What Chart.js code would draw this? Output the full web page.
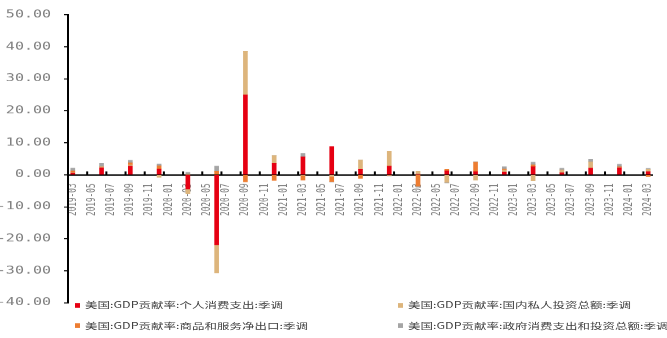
<!DOCTYPE html>
<html>
<head>
<meta charset="utf-8">
<script src="https://cdn.jsdelivr.net/npm/chart.js@4.4.1/dist/chart.umd.min.js"></script>
<style>
  html, body { margin: 0; padding: 0; background: #fff; overflow: hidden; }
  /* chart is laid out taller and squeezed vertically */
  #wrap { position: relative; width: 667px; height: 504px; transform: scaleY(0.6706); transform-origin: 0 0; }
  #legend { position: absolute; left: 0; top: 0; width: 667px; font: 12.5px "Noto Sans CJK SC"; color: #404040; }
  .item { position: absolute; white-space: nowrap; line-height: 16px; }
  .item i { display: inline-block; width: 5px; height: 7px; margin-right: 5px; vertical-align: 1px; }
</style>
</head>
<body>
<div id="wrap">
  <canvas id="gdp-chart" width="667" height="504"></canvas>
  <div id="legend"></div>
</div>
<script>
// quarterly data, placed on a monthly axis
const quarters = ["2019-03", "2019-06", "2019-09", "2019-12", "2020-03", "2020-06", "2020-09",
  "2020-12", "2021-03", "2021-06", "2021-09", "2021-12", "2022-03", "2022-06", "2022-09",
  "2022-12", "2023-03", "2023-06", "2023-09", "2023-12", "2024-03"];

const consumption = [0.5, 2.2, 2.7, 1.8, -4.5, -21.9, 25.0, 3.6, 5.6, 8.8, 1.7, 2.7, 0.1, 1.2, 1.0, 0.9, 2.5, 0.6, 2.1, 2.2, 1.0];
const investment = [0.2, 0.3, 0.4, -0.8, -1.4, -8.8, 13.6, 2.4, -0.2, -0.6, 2.9, 4.7, 1.0, -2.4, -1.7, 0.6, -1.9, 0.9, 1.9, 0.1, 0.7];
const netExports = [0.5, 0.0, 0.6, 1.0, 0.1, 1.1, -2.2, -1.8, -1.5, -1.5, -1.2, -0.2, -3.6, 0.5, 2.9, 0.3, 0.6, 0.04, 0.05, 0.2, -0.6];
const government = [0.9, 1.1, 0.8, 0.6, 0.7, 1.6, 0, 0, 1.1, -0.2, 0, -0.2, -0.3, -0.2, 0.2, 0.7, 0.8, 0.5, 0.8, 0.8, 0.3];

const seriesNames = [
  "美国:GDP贡献率:个人消费支出:季调",
  "美国:GDP贡献率:国内私人投资总额:季调",
  "美国:GDP贡献率:商品和服务净出口:季调",
  "美国:GDP贡献率:政府消费支出和投资总额:季调"
];
const seriesColors = ["#E60012", "#DDB57C", "#ED7D31", "#A5A5A5"];

const yTicks = [-40, -30, -20, -10, 0, 10, 20, 30, 40, 50];

// every month from 2019-03 to 2024-03
let months = [];
for (let y = 2019, m = 3; y < 2024 || (y === 2024 && m <= 3); m++) {
  if (m > 12) { m = 1; y++; }
  if (y === 2024 && m > 3) break;
  months.push(y + "-" + String(m).padStart(2, "0"));
}

function toMonthly(values) {
  return months.map(function(mo) {
    const q = quarters.indexOf(mo);
    return q === -1 ? null : values[q];
  });
}

const allSeries = [consumption, investment, netExports, government];

const gdpData = {
  labels: months,
  datasets: allSeries.map(function(vals, i) {
    return {
      label: seriesNames[i],
      data: toMonthly(vals),
      backgroundColor: seriesColors[i],
      borderWidth: 0,
      barThickness: 4
    };
  })
};

// small upward tick marks every two months on the zero line
const axisTicks = {
  id: "axisTicks",
  afterDraw(chart) {
    const x = chart.scales.x, y = chart.scales.y;
    const ctx = chart.ctx;
    const step = x.getPixelForValue(1) - x.getPixelForValue(0);
    const y0 = y.getPixelForValue(0);
    ctx.save();
    ctx.strokeStyle = "#000";
    ctx.lineWidth = 2;
    ctx.beginPath();
    for (let i = 2; i <= months.length; i += 2) {
      const px = x.getPixelForValue(i) - step / 2;
      ctx.moveTo(px, y0 + 1);
      ctx.lineTo(px, y0 - 5);
    }
    ctx.stroke();
    ctx.restore();
  }
};

const gdpOptions = {
  responsive: false,
  animation: false,
  layout: {
    padding: { top: 22, right: 3, bottom: 52.6, left: 0 }
  },
  plugins: {
    legend: { display: false },
    tooltip: { enabled: false }
  },
  scales: {
    x: {
      stacked: true,
      position: { y: 0 },
      grid: { display: false },
      border: { color: "#000", width: 2 },
      ticks: {
        autoSkip: false,
        minRotation: 90,
        maxRotation: 90,
        padding: 5,
        color: "#7F7F7F",
        font: { family: "DejaVu Sans Mono", size: 11.5 },
        callback: function(v, i) {
          return i % 2 === 0 ? this.getLabelForValue(v) : "";
        }
      }
    },
    y: {
      stacked: true,
      min: -40,
      max: 50,
      afterFit: function(scale) { scale.width = 68; },
      afterBuildTicks: function(scale) {
        scale.ticks = yTicks.map(function(v) { return { value: v }; });
      },
      grid: { drawOnChartArea: false, color: "#000", lineWidth: 1.5, tickLength: 4 },
      border: { color: "#000", width: 2 },
      ticks: {
        padding: 13,
        color: "#7F7F7F",
        font: { family: "DejaVu Sans Mono", size: 15 },
        callback: function(v) { return v.toFixed(2); }
      }
    }
  }
};

const gdpChart = new Chart(document.getElementById("gdp-chart"), {
  type: "bar",
  data: gdpData,
  options: gdpOptions,
  plugins: [axisTicks]
});

// legend in two columns under the plot
const legendPos = [[75, 447], [398, 447], [75, 477], [398, 477]];
const legendBox = document.getElementById("legend");
seriesNames.forEach(function(name, i) {
  const item = document.createElement("div");
  item.className = "item";
  item.style.left = legendPos[i][0] + "px";
  item.style.top = legendPos[i][1] + "px";
  item.innerHTML = '<i style="background:' + seriesColors[i] + '"></i>' + name;
  legendBox.appendChild(item);
});
</script>
</body>
</html>
